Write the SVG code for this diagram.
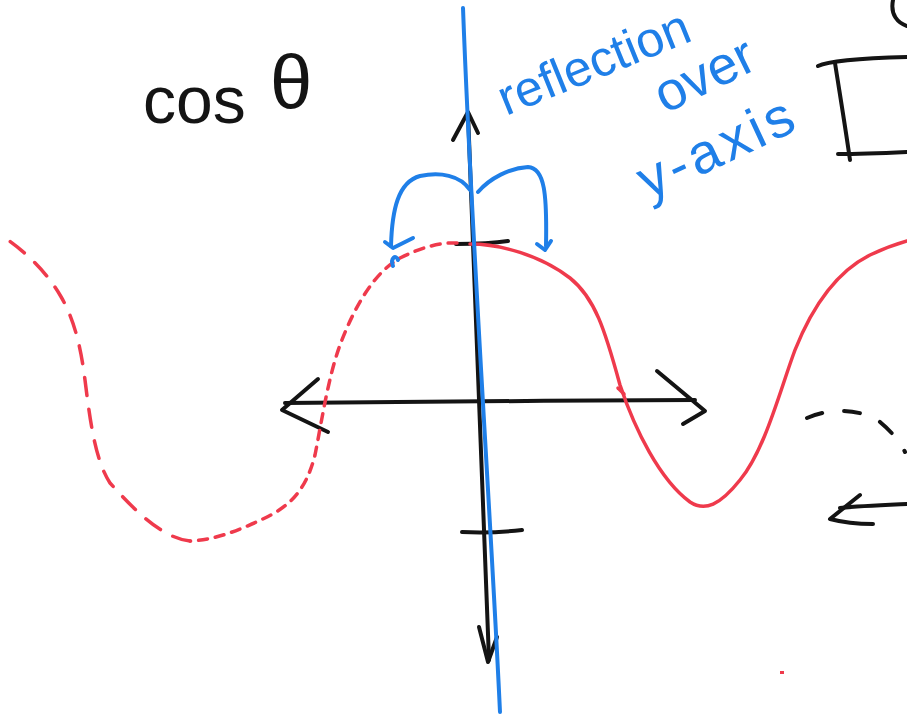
<svg xmlns="http://www.w3.org/2000/svg" width="907" height="715" viewBox="0 0 907 715">
<style>
.k{fill:none;stroke:#141414;stroke-width:4;stroke-linecap:round;stroke-linejoin:round}
.b{fill:none;stroke:#1f7fe8;stroke-width:4;stroke-linecap:round;stroke-linejoin:round}
.r{fill:none;stroke:#ef3a4c;stroke-width:3.5;stroke-linecap:round;stroke-linejoin:round}
.bt{font-family:"Liberation Sans",sans-serif;fill:#1f7fe8}
.kt{font-family:"Liberation Sans",sans-serif;fill:#141414}
</style>
<rect width="907" height="715" fill="#fff"/>
<g id="label-cos">
<text class="kt" x="143" y="123" font-size="66">cos</text>
<text class="kt" x="270" y="108" font-size="76">θ</text>
</g>
<g id="label-reflection">
<text class="bt" font-size="50" transform="translate(506,116) rotate(-22)">reflection</text>
<text class="bt" font-size="54" transform="translate(665,114) rotate(-26)">over</text>
<text class="bt" font-size="56" letter-spacing="4" transform="translate(648,200) rotate(-25)">y-axis</text>
</g>
<g id="axes">
<path class="k" d="M468,113 C474,280 482,470 489,660"/>
<path class="k" d="M453,140 L468,112 L478,133"/>
<path class="k" d="M479,627 L488,662 L497,637"/>
<path class="k" d="M285,403 C400,401 560,401 695,400"/>
<path class="k" d="M318,379 L282,410 L328,432"/>
<path class="k" d="M657,371 L705,411 L683,424"/>
<path class="k" d="M456,244 C475,244 495,243 508,241"/>
<path class="k" d="M462,532 C485,533 505,532 522,530"/>
</g>
<g id="cosine-curve">
<path class="r" d="M470,244 C500,244 540,255 570,278 C595,298 605,330 620,385 C635,430 660,480 690,502 C705,512 720,505 740,480 C765,450 780,390 795,350 C815,300 840,270 870,255 C885,248 900,243 907,241"/>
<path class="r" d="M618,388 L624,394"/>
</g>
<g id="reflected-curve">
<path class="r" stroke-dasharray="9 8" d="M457,243 C440,242 420,248 400,258 C375,272 355,305 340,345 C328,378 322,420 315,455 C305,495 285,508 265,518 C240,530 215,540 190,541"/>
<path class="r" stroke-dasharray="18 14" d="M190,541 C160,538 130,505 110,483 C95,460 90,420 85,380 C80,340 72,315 60,295 C45,270 25,252 8,240"/>
<rect x="780" y="671" width="4" height="3" fill="#ef3a4c"/>
</g>
<g id="mirror-line">
<path class="b" d="M463,8 C472,250 490,500 500,712"/>
</g>
<g id="reflection-arrows">
<path class="b" d="M470,190 C460,175 440,172 420,176 C398,182 392,210 391,246"/>
<path class="b" d="M385,242 L393,248 L413,238"/>
<path class="b" d="M393,266 C390,258 396,254 398,260"/>
<path class="b" d="M478,192 C490,178 510,168 528,167 C545,168 547,195 546,246"/>
<path class="b" d="M537,244 L545,250 L551,241"/>
</g>
<g id="right-partial">
<path class="k" d="M818,66 C830,60 870,58 907,57"/>
<path class="k" d="M835,63 C840,95 845,125 850,160"/>
<path class="k" d="M838,154 C860,154 885,153 907,152"/>
<path class="k" d="M893,0 C890,15 898,23 907,26"/>
<path class="k" stroke-dasharray="16 22" d="M807,418 C830,408 860,408 880,422 C892,432 900,442 905,452"/>
<path class="k" d="M860,495 L830,519 C845,523 860,524 873,524"/>
<path class="k" d="M840,508 C860,506 885,505 907,504"/>
</g>
</svg>
